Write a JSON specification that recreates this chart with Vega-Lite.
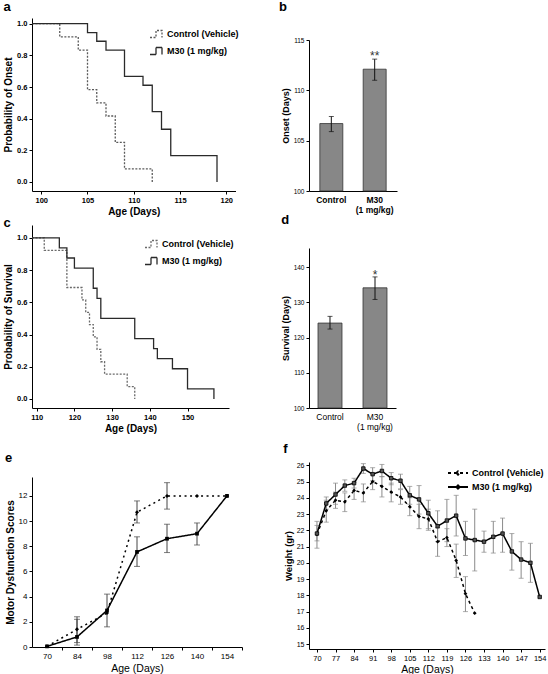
{
  "$schema": "https://vega.github.io/schema/vega-lite/v6.json",
  "padding": {"left": 3, "top": 1, "right": 0, "bottom": 0},
  "background": "white",
  "config": {
    "font": "Liberation Sans",
    "view": {"stroke": null},
    "axis": {"grid": false, "domainColor": "#000", "tickColor": "#000", "labelColor": "#000", "titleColor": "#000", "tickSize": 3, "labelFontSize": 7.5, "labelFontWeight": "bold", "titleFontSize": 10, "titleFontWeight": "bold", "labelPadding": 2, "titlePadding": 3, "domainWidth": 1, "tickWidth": 1, "labelOverlap": false},
    "title": {"anchor": "start", "frame": "bounds", "fontSize": 13, "fontWeight": "bold", "color": "#000"},
    "legend": {"labelFontSize": 9, "labelFontWeight": "bold", "labelColor": "#000"}
  },
  "datasets": {
    "km_a": [
      {"group": "Control (Vehicle)", "day": 99, "p": 1},
      {"group": "Control (Vehicle)", "day": 102, "p": 0.917},
      {"group": "Control (Vehicle)", "day": 104, "p": 0.833},
      {"group": "Control (Vehicle)", "day": 105, "p": 0.583},
      {"group": "Control (Vehicle)", "day": 106, "p": 0.5},
      {"group": "Control (Vehicle)", "day": 107, "p": 0.417},
      {"group": "Control (Vehicle)", "day": 108, "p": 0.25},
      {"group": "Control (Vehicle)", "day": 109, "p": 0.083},
      {"group": "Control (Vehicle)", "day": 112, "p": 0},
      {"group": "M30 (1 mg/kg)", "day": 99, "p": 1},
      {"group": "M30 (1 mg/kg)", "day": 105, "p": 0.944},
      {"group": "M30 (1 mg/kg)", "day": 106, "p": 0.889},
      {"group": "M30 (1 mg/kg)", "day": 107, "p": 0.833},
      {"group": "M30 (1 mg/kg)", "day": 109, "p": 0.667},
      {"group": "M30 (1 mg/kg)", "day": 111, "p": 0.611},
      {"group": "M30 (1 mg/kg)", "day": 112, "p": 0.444},
      {"group": "M30 (1 mg/kg)", "day": 113, "p": 0.333},
      {"group": "M30 (1 mg/kg)", "day": 114, "p": 0.167},
      {"group": "M30 (1 mg/kg)", "day": 119, "p": 0}
    ],
    "km_c": [
      {"group": "Control (Vehicle)", "day": 108.75, "p": 1},
      {"group": "Control (Vehicle)", "day": 112, "p": 0.923},
      {"group": "Control (Vehicle)", "day": 118, "p": 0.692},
      {"group": "Control (Vehicle)", "day": 122, "p": 0.615},
      {"group": "Control (Vehicle)", "day": 123, "p": 0.538},
      {"group": "Control (Vehicle)", "day": 124, "p": 0.462},
      {"group": "Control (Vehicle)", "day": 125, "p": 0.385},
      {"group": "Control (Vehicle)", "day": 126, "p": 0.308},
      {"group": "Control (Vehicle)", "day": 127, "p": 0.231},
      {"group": "Control (Vehicle)", "day": 128, "p": 0.154},
      {"group": "Control (Vehicle)", "day": 134, "p": 0.077},
      {"group": "Control (Vehicle)", "day": 136, "p": 0},
      {"group": "M30 (1 mg/kg)", "day": 108.75, "p": 1},
      {"group": "M30 (1 mg/kg)", "day": 116, "p": 0.9375},
      {"group": "M30 (1 mg/kg)", "day": 118, "p": 0.875},
      {"group": "M30 (1 mg/kg)", "day": 120, "p": 0.8125},
      {"group": "M30 (1 mg/kg)", "day": 125, "p": 0.6875},
      {"group": "M30 (1 mg/kg)", "day": 126, "p": 0.625},
      {"group": "M30 (1 mg/kg)", "day": 127, "p": 0.5},
      {"group": "M30 (1 mg/kg)", "day": 136, "p": 0.375},
      {"group": "M30 (1 mg/kg)", "day": 141, "p": 0.3125},
      {"group": "M30 (1 mg/kg)", "day": 142, "p": 0.25},
      {"group": "M30 (1 mg/kg)", "day": 146, "p": 0.1875},
      {"group": "M30 (1 mg/kg)", "day": 150, "p": 0.0625},
      {"group": "M30 (1 mg/kg)", "day": 157, "p": 0}
    ],
    "onset": [
      {"group": "Control", "mean": 106.7, "lo": 105.9, "hi": 107.4, "sig": ""},
      {"group": "M30", "mean": 112.1, "lo": 111.0, "hi": 113.1, "sig": "**"}
    ],
    "survival": [
      {"group": "Control", "mean": 124.1, "lo": 122.4, "hi": 126.0, "sig": ""},
      {"group": "M30", "mean": 134.1, "lo": 130.8, "hi": 137.2, "sig": "*"}
    ],
    "motor": [
      {"group": "Control", "day": 70, "score": 0.05, "lo": null, "hi": null},
      {"group": "Control", "day": 84, "score": 1.4, "lo": 0.35, "hi": 2.4},
      {"group": "Control", "day": 98, "score": 2.7, "lo": null, "hi": null},
      {"group": "Control", "day": 112, "score": 10.7, "lo": 9.85, "hi": 11.6},
      {"group": "Control", "day": 126, "score": 12, "lo": 10.95, "hi": 13.05},
      {"group": "Control", "day": 140, "score": 12, "lo": null, "hi": null},
      {"group": "Control", "day": 154, "score": 12, "lo": null, "hi": null},
      {"group": "M30", "day": 70, "score": 0.05, "lo": null, "hi": null},
      {"group": "M30", "day": 84, "score": 0.8, "lo": 0.15, "hi": 2.2},
      {"group": "M30", "day": 98, "score": 2.9, "lo": 1.6, "hi": 4.2},
      {"group": "M30", "day": 112, "score": 7.55, "lo": 6.4, "hi": 8.75},
      {"group": "M30", "day": 126, "score": 8.6, "lo": 7.5, "hi": 9.75},
      {"group": "M30", "day": 140, "score": 9.0, "lo": 8.1, "hi": 9.85},
      {"group": "M30", "day": 154, "score": 12, "lo": null, "hi": null}
    ],
    "weight": [
      {"group": "M30  (1 mg/kg)", "day": 70, "w": 21.8, "lo": 21.35, "hi": 22.55},
      {"group": "M30  (1 mg/kg)", "day": 73.5, "w": 23.65, "lo": 23.3, "hi": 24.05},
      {"group": "M30  (1 mg/kg)", "day": 77, "w": 24.2, "lo": 23.6, "hi": 24.9},
      {"group": "M30  (1 mg/kg)", "day": 80.5, "w": 24.75, "lo": 24.4, "hi": 25.1},
      {"group": "M30  (1 mg/kg)", "day": 84, "w": 24.9, "lo": 24.6, "hi": 25.2},
      {"group": "M30  (1 mg/kg)", "day": 87.5, "w": 25.8, "lo": 25.5, "hi": 26.1},
      {"group": "M30  (1 mg/kg)", "day": 91, "w": 25.45, "lo": 25.05, "hi": 25.85},
      {"group": "M30  (1 mg/kg)", "day": 94.5, "w": 25.65, "lo": 25.3, "hi": 26.05},
      {"group": "M30  (1 mg/kg)", "day": 98, "w": 25.2, "lo": 24.8, "hi": 25.55},
      {"group": "M30  (1 mg/kg)", "day": 101.5, "w": 25.05, "lo": 24.55, "hi": 25.45},
      {"group": "M30  (1 mg/kg)", "day": 105, "w": 24.15, "lo": 23.6, "hi": 24.7},
      {"group": "M30  (1 mg/kg)", "day": 108.5, "w": 23.9, "lo": 23.0, "hi": 24.75},
      {"group": "M30  (1 mg/kg)", "day": 112, "w": 23.05, "lo": 22.1, "hi": 23.85},
      {"group": "M30  (1 mg/kg)", "day": 115.5, "w": 22.25, "lo": 21.3, "hi": 23.2},
      {"group": "M30  (1 mg/kg)", "day": 119, "w": 22.6, "lo": 21.3, "hi": 23.9},
      {"group": "M30  (1 mg/kg)", "day": 122.5, "w": 22.9, "lo": 21.65, "hi": 24.15},
      {"group": "M30  (1 mg/kg)", "day": 126, "w": 21.5, "lo": 20.45, "hi": 22.55},
      {"group": "M30  (1 mg/kg)", "day": 129.5, "w": 21.4, "lo": 19.5, "hi": 23.3},
      {"group": "M30  (1 mg/kg)", "day": 133, "w": 21.3, "lo": 20.65, "hi": 21.95},
      {"group": "M30  (1 mg/kg)", "day": 136.5, "w": 21.6, "lo": 20.6, "hi": 22.55},
      {"group": "M30  (1 mg/kg)", "day": 140, "w": 21.8, "lo": 20.65, "hi": 22.75},
      {"group": "M30  (1 mg/kg)", "day": 143.5, "w": 20.7, "lo": 19.55, "hi": 21.8},
      {"group": "M30  (1 mg/kg)", "day": 147, "w": 20.2, "lo": 19.05, "hi": 21.3},
      {"group": "M30  (1 mg/kg)", "day": 150.5, "w": 20.0, "lo": 18.8, "hi": 21.2},
      {"group": "M30  (1 mg/kg)", "day": 154, "w": 17.9, "lo": null, "hi": null},
      {"group": "Control  (Vehicle)", "day": 70, "w": 21.75, "lo": 20.9, "hi": 22.3},
      {"group": "Control  (Vehicle)", "day": 73.5, "w": 23.2, "lo": 22.5, "hi": 23.85},
      {"group": "Control  (Vehicle)", "day": 77, "w": 23.85, "lo": 23.35, "hi": 24.35},
      {"group": "Control  (Vehicle)", "day": 80.5, "w": 23.75, "lo": 23.15, "hi": 24.3},
      {"group": "Control  (Vehicle)", "day": 84, "w": 24.45, "lo": 23.9, "hi": 24.95},
      {"group": "Control  (Vehicle)", "day": 87.5, "w": 24.3, "lo": 23.75, "hi": 24.85},
      {"group": "Control  (Vehicle)", "day": 91, "w": 25.0, "lo": 24.5, "hi": 25.45},
      {"group": "Control  (Vehicle)", "day": 94.5, "w": 24.7, "lo": 24.05, "hi": 25.3},
      {"group": "Control  (Vehicle)", "day": 98, "w": 24.35, "lo": 23.75, "hi": 24.9},
      {"group": "Control  (Vehicle)", "day": 101.5, "w": 24.05, "lo": 23.6, "hi": 24.5},
      {"group": "Control  (Vehicle)", "day": 105, "w": 23.45, "lo": 22.9, "hi": 24.0},
      {"group": "Control  (Vehicle)", "day": 108.5, "w": 22.85, "lo": 22.1, "hi": 23.6},
      {"group": "Control  (Vehicle)", "day": 112, "w": 22.7, "lo": 22.0, "hi": 23.3},
      {"group": "Control  (Vehicle)", "day": 115.5, "w": 21.3, "lo": 20.4, "hi": 22.15},
      {"group": "Control  (Vehicle)", "day": 119, "w": 21.55, "lo": 21.0, "hi": 22.1},
      {"group": "Control  (Vehicle)", "day": 122.5, "w": 20.15, "lo": 19.1, "hi": 21.15},
      {"group": "Control  (Vehicle)", "day": 126, "w": 18.1, "lo": 17.0, "hi": 19.15},
      {"group": "Control  (Vehicle)", "day": 129.5, "w": 16.9, "lo": null, "hi": null}
    ]
  },
  "hconcat": [
    {
      "spacing": 0,
      "resolve": {
        "scale": {"color": "independent", "strokeDash": "independent", "shape": "independent"},
        "legend": {"color": "independent", "strokeDash": "independent", "shape": "independent"}
      },
      "vconcat": [
        {
          "title": {"text": "a", "offset": 4},
          "width": 203.5, "height": 173,
          "data": {"name": "km_a"},
          "mark": {"type": "line", "interpolate": "step-after"},
          "encoding": {
            "x": {"field": "day", "type": "quantitative", "title": "Age (Days)", "scale": {"domain": [99, 121], "nice": false, "zero": false}, "axis": {"values": [100, 105, 110, 115, 120], "format": "d"}},
            "y": {"field": "p", "type": "quantitative", "title": "Probability of Onset", "scale": {"domain": [-0.057, 1.036], "nice": false}, "axis": {"values": [0, 0.2, 0.4, 0.6, 0.8, 1], "format": ".1f", "tickCount": 30}},
            "color": {"field": "group", "type": "nominal", "scale": {"domain": ["Control (Vehicle)", "M30 (1 mg/kg)"], "range": ["#5a5a5a", "#2a2a2a"]}, "legend": {"orient": "none", "legendX": 119, "legendY": 10, "title": null, "symbolType": "M-1.4,0.7H-0.2V-0.7H1V0.7", "symbolSize": 100, "symbolStrokeWidth": 1.3, "rowPadding": 3, "labelOffset": 4}},
            "strokeDash": {"field": "group", "type": "nominal", "scale": {"domain": ["Control (Vehicle)", "M30 (1 mg/kg)"], "range": [[2, 1.5], [1, 0]]}, "legend": {"orient": "none", "legendX": 119, "legendY": 10, "title": null, "symbolType": "M-1.4,0.7H-0.2V-0.7H1V0.7", "symbolSize": 100, "symbolStrokeWidth": 1.3, "rowPadding": 3, "labelOffset": 4}},
            "strokeWidth": {"value": 1.3}
          }
        },
        {
          "title": {"text": "c", "offset": -5},
          "width": 197, "height": 183,
          "data": {"name": "km_c"},
          "mark": {"type": "line", "interpolate": "step-after"},
          "encoding": {
            "x": {"field": "day", "type": "quantitative", "title": "Age (Days)", "scale": {"domain": [108.75, 161], "nice": false, "zero": false}, "axis": {"values": [110, 120, 130, 140, 150], "format": "d"}},
            "y": {"field": "p", "type": "quantitative", "title": "Probability of Survival", "scale": {"domain": [-0.056, 1.08], "nice": false}, "axis": {"values": [0, 0.2, 0.4, 0.6, 0.8, 1], "format": ".1f", "tickCount": 30}},
            "color": {"field": "group", "type": "nominal", "scale": {"domain": ["Control (Vehicle)", "M30 (1 mg/kg)"], "range": ["#6a6a6a", "#2a2a2a"]}, "legend": {"orient": "none", "legendX": 114, "legendY": 13, "title": null, "symbolType": "M-1.4,0.7H-0.2V-0.7H1V0.7", "symbolSize": 100, "symbolStrokeWidth": 1.3, "rowPadding": 3, "labelOffset": 4}},
            "strokeDash": {"field": "group", "type": "nominal", "scale": {"domain": ["Control (Vehicle)", "M30 (1 mg/kg)"], "range": [[2, 1.5], [1, 0]]}, "legend": {"orient": "none", "legendX": 114, "legendY": 13, "title": null, "symbolType": "M-1.4,0.7H-0.2V-0.7H1V0.7", "symbolSize": 100, "symbolStrokeWidth": 1.3, "rowPadding": 3, "labelOffset": 4}},
            "strokeWidth": {"value": 1.3}
          }
        },
        {
          "width": 10, "height": 18,
          "data": {"values": []},
          "mark": {"type": "point", "opacity": 0},
          "encoding": {}
        },
        {
          "title": {"text": "e", "offset": 12},
          "width": 210, "height": 170,
          "data": {"name": "motor"},
          "encoding": {
            "x": {"field": "day", "type": "quantitative", "title": "Age (Days)", "scale": {"domain": [63, 161], "nice": false, "zero": false}, "axis": {"values": [70, 84, 98, 112, 126, 140, 154], "format": "d", "tickCount": 30, "tickOffset": 15, "labelOffset": -15, "labelOverlap": false, "labelFontWeight": "normal", "labelFontSize": 8, "titleFontWeight": "normal", "titleFontSize": 10.5}}
          },
          "layer": [
            {"transform": [{"filter": "isValid(datum.lo)"}], "mark": {"type": "rule", "color": "#444"}, "encoding": {"y": {"field": "lo", "type": "quantitative", "title": "Motor Dysfunction Scores", "scale": {"domain": [0, 13.5], "nice": false}, "axis": {"values": [0, 2, 4, 6, 8, 10, 12], "format": "d", "tickCount": 30, "labelOverlap": false, "labelFontWeight": "normal", "labelFontSize": 8}}, "y2": {"field": "hi"}}},
            {"transform": [{"filter": "isValid(datum.lo)"}], "mark": {"type": "tick", "orient": "horizontal", "size": 6, "thickness": 1, "color": "#444"}, "encoding": {"y": {"field": "lo", "type": "quantitative", "title": "Motor Dysfunction Scores", "axis": {"values": [0, 2, 4, 6, 8, 10, 12], "format": "d", "tickCount": 30, "labelOverlap": false, "labelFontWeight": "normal", "labelFontSize": 8}}}},
            {"transform": [{"filter": "isValid(datum.lo)"}], "mark": {"type": "tick", "orient": "horizontal", "size": 6, "thickness": 1, "color": "#444"}, "encoding": {"y": {"field": "hi", "type": "quantitative", "title": "Motor Dysfunction Scores", "axis": {"values": [0, 2, 4, 6, 8, 10, 12], "format": "d", "tickCount": 30, "labelOverlap": false, "labelFontWeight": "normal", "labelFontSize": 8}}}},
            {"mark": {"type": "line", "color": "#000", "strokeWidth": 1.5}, "encoding": {"y": {"field": "score", "type": "quantitative", "title": "Motor Dysfunction Scores", "axis": {"values": [0, 2, 4, 6, 8, 10, 12], "format": "d", "tickCount": 30, "labelOverlap": false, "labelFontWeight": "normal", "labelFontSize": 8}}, "strokeDash": {"field": "group", "type": "nominal", "scale": {"domain": ["Control", "M30"], "range": [[2, 3.5], [1, 0]]}, "legend": null}}},
            {"transform": [{"filter": "datum.group == 'Control'"}], "mark": {"type": "point", "shape": "diamond", "filled": true, "color": "#000", "size": 16, "opacity": 1}, "encoding": {"y": {"field": "score", "type": "quantitative", "title": "Motor Dysfunction Scores", "axis": {"values": [0, 2, 4, 6, 8, 10, 12], "format": "d", "tickCount": 30, "labelOverlap": false, "labelFontWeight": "normal", "labelFontSize": 8}}}},
            {"transform": [{"filter": "datum.group == 'M30'"}], "mark": {"type": "point", "shape": "square", "filled": true, "color": "#000", "size": 14, "opacity": 1}, "encoding": {"y": {"field": "score", "type": "quantitative", "title": "Motor Dysfunction Scores", "axis": {"values": [0, 2, 4, 6, 8, 10, 12], "format": "d", "tickCount": 30, "labelOverlap": false, "labelFontWeight": "normal", "labelFontSize": 8}}}}
          ]
        }
      ]
    },
    {
      "spacing": 0,
      "resolve": {
        "scale": {"color": "independent", "strokeDash": "independent", "shape": "independent"},
        "legend": {"color": "independent", "strokeDash": "independent", "shape": "independent"}
      },
      "vconcat": [
        {
          "title": {"text": "b", "offset": 4, "dx": -30},
          "width": 88, "height": 19,
          "data": {"values": []},
          "mark": {"type": "point", "opacity": 0},
          "encoding": {}
        },
        {
          "width": 88, "height": 151,
          "data": {"name": "onset"},
          "encoding": {
            "x": {"field": "group", "type": "nominal", "sort": null, "title": null, "scale": {"paddingInner": 0.47, "paddingOuter": 0.25}, "axis": {"ticks": false, "labelAngle": 0, "labelFontSize": 8.5, "labelPadding": 4, "labelLineHeight": 10, "labelExpr": "datum.value == 'M30' ? ['M30', '(1 mg/kg)'] : datum.value"}}
          },
          "layer": [
            {"mark": {"type": "bar", "color": "#878787", "stroke": "#333", "strokeWidth": 0.8}, "encoding": {"y": {"field": "mean", "type": "quantitative", "title": "Onset (Days)", "scale": {"domain": [100, 115], "nice": false, "zero": false}, "axis": {"values": [100, 105, 110, 115], "format": "d", "tickCount": 30, "labelFontSize": 6.5, "labelFontWeight": "normal", "titleFontSize": 9}}, "y2": {"datum": 100}}},
            {"mark": {"type": "rule", "color": "#111"}, "encoding": {"y": {"field": "lo", "type": "quantitative", "title": "Onset (Days)"}, "y2": {"field": "hi"}}},
            {"mark": {"type": "tick", "orient": "horizontal", "size": 5, "thickness": 1, "color": "#111"}, "encoding": {"y": {"field": "lo", "type": "quantitative", "title": "Onset (Days)"}}},
            {"mark": {"type": "tick", "orient": "horizontal", "size": 5, "thickness": 1, "color": "#111"}, "encoding": {"y": {"field": "hi", "type": "quantitative", "title": "Onset (Days)"}}},
            {"mark": {"type": "text", "baseline": "alphabetic", "dy": 1, "fontSize": 12, "color": "#333"}, "encoding": {"y": {"field": "hi", "type": "quantitative", "title": "Onset (Days)"}, "text": {"field": "sig"}}}
          ]
        },
        {
          "title": {"text": "d", "offset": 21},
          "width": 87, "height": 160,
          "data": {"name": "survival"},
          "encoding": {
            "x": {"field": "group", "type": "nominal", "sort": null, "title": null, "scale": {"paddingInner": 0.467, "paddingOuter": 0.2}, "axis": {"ticks": false, "labelAngle": 0, "labelFontSize": 8.5, "labelPadding": 4, "labelLineHeight": 10, "labelFontWeight": "normal", "labelExpr": "datum.value == 'M30' ? ['M30', '(1 mg/kg)'] : datum.value"}}
          },
          "layer": [
            {"mark": {"type": "bar", "color": "#878787", "stroke": "#333", "strokeWidth": 0.8}, "encoding": {"y": {"field": "mean", "type": "quantitative", "title": "Survival (Days)", "scale": {"domain": [100, 145.4], "nice": false, "zero": false}, "axis": {"values": [100, 110, 120, 130, 140], "format": "d", "tickCount": 30, "labelFontSize": 6.5, "labelFontWeight": "normal", "titleFontSize": 9}}, "y2": {"datum": 100}}},
            {"mark": {"type": "rule", "color": "#111"}, "encoding": {"y": {"field": "lo", "type": "quantitative", "title": "Survival (Days)"}, "y2": {"field": "hi"}}},
            {"mark": {"type": "tick", "orient": "horizontal", "size": 5, "thickness": 1, "color": "#111"}, "encoding": {"y": {"field": "lo", "type": "quantitative", "title": "Survival (Days)"}}},
            {"mark": {"type": "tick", "orient": "horizontal", "size": 5, "thickness": 1, "color": "#111"}, "encoding": {"y": {"field": "hi", "type": "quantitative", "title": "Survival (Days)"}}},
            {"mark": {"type": "text", "baseline": "alphabetic", "dy": 2, "fontSize": 12, "color": "#333"}, "encoding": {"y": {"field": "hi", "type": "quantitative", "title": "Survival (Days)"}, "text": {"field": "sig"}}}
          ]
        },
        {
          "width": 10, "height": 12,
          "data": {"values": []},
          "mark": {"type": "point", "opacity": 0},
          "encoding": {}
        },
        {
          "title": {"text": "f", "offset": 5},
          "width": 236, "height": 187,
          "data": {"name": "weight"},
          "encoding": {
            "x": {"field": "day", "type": "quantitative", "title": "Age (Days)", "scale": {"domain": [67, 156], "nice": false, "zero": false}, "axis": {"values": [70, 77, 84, 91, 98, 105, 112, 119, 126, 133, 140, 147, 154], "format": "d", "tickCount": 30, "labelOverlap": false, "labelFontWeight": "normal", "labelFontSize": 7.5, "titleFontWeight": "normal", "titleFontSize": 10.5}}
          },
          "layer": [
            {"transform": [{"filter": "isValid(datum.lo)"}], "mark": {"type": "rule", "color": "#8a8a8a"}, "encoding": {"y": {"field": "lo", "type": "quantitative", "title": "Weight (gr)", "scale": {"domain": [14.7, 26.2], "nice": false, "zero": false}, "axis": {"values": [15, 16, 17, 18, 19, 20, 21, 22, 23, 24, 25, 26], "format": "d", "tickCount": 30, "labelOverlap": false, "labelFontWeight": "normal", "labelFontSize": 7, "titleFontSize": 9.5}}, "y2": {"field": "hi"}}},
            {"transform": [{"filter": "isValid(datum.lo)"}], "mark": {"type": "tick", "orient": "horizontal", "size": 5, "thickness": 1, "color": "#8a8a8a"}, "encoding": {"y": {"field": "lo", "type": "quantitative", "title": "Weight (gr)", "axis": {"values": [15, 16, 17, 18, 19, 20, 21, 22, 23, 24, 25, 26], "format": "d", "tickCount": 30, "labelOverlap": false, "labelFontWeight": "normal", "labelFontSize": 7, "titleFontSize": 9.5}}}},
            {"transform": [{"filter": "isValid(datum.lo)"}], "mark": {"type": "tick", "orient": "horizontal", "size": 5, "thickness": 1, "color": "#8a8a8a"}, "encoding": {"y": {"field": "hi", "type": "quantitative", "title": "Weight (gr)", "axis": {"values": [15, 16, 17, 18, 19, 20, 21, 22, 23, 24, 25, 26], "format": "d", "tickCount": 30, "labelOverlap": false, "labelFontWeight": "normal", "labelFontSize": 7, "titleFontSize": 9.5}}}},
            {"mark": {"type": "line", "color": "#000", "strokeWidth": 1.5}, "encoding": {"y": {"field": "w", "type": "quantitative", "title": "Weight (gr)", "axis": {"values": [15, 16, 17, 18, 19, 20, 21, 22, 23, 24, 25, 26], "format": "d", "tickCount": 30, "labelOverlap": false, "labelFontWeight": "normal", "labelFontSize": 7, "titleFontSize": 9.5}}, "strokeDash": {"field": "group", "type": "nominal", "scale": {"domain": ["Control  (Vehicle)", "M30  (1 mg/kg)"], "range": [[3, 3], [1, 0]]}, "legend": {"orient": "none", "legendX": 143, "legendY": 5, "title": null, "symbolType": "M-2,0H2M-0.35,0L0,-0.35L0.35,0L0,0.35Z", "symbolSize": 100, "symbolStrokeColor": "#000", "symbolStrokeWidth": 1.8, "rowPadding": 2, "labelOffset": 8}}}},
            {"transform": [{"filter": "datum.group == 'Control  (Vehicle)'"}], "mark": {"type": "point", "shape": "diamond", "filled": true, "color": "#000", "size": 14, "opacity": 1}, "encoding": {"y": {"field": "w", "type": "quantitative", "title": "Weight (gr)", "axis": {"values": [15, 16, 17, 18, 19, 20, 21, 22, 23, 24, 25, 26], "format": "d", "tickCount": 30, "labelOverlap": false, "labelFontWeight": "normal", "labelFontSize": 7, "titleFontSize": 9.5}}}},
            {"transform": [{"filter": "datum.group == 'M30  (1 mg/kg)'"}], "mark": {"type": "point", "shape": "square", "filled": true, "color": "#555", "stroke": "#000", "strokeWidth": 0.8, "size": 12, "opacity": 1}, "encoding": {"y": {"field": "w", "type": "quantitative", "title": "Weight (gr)", "axis": {"values": [15, 16, 17, 18, 19, 20, 21, 22, 23, 24, 25, 26], "format": "d", "tickCount": 30, "labelOverlap": false, "labelFontWeight": "normal", "labelFontSize": 7, "titleFontSize": 9.5}}}}
          ]
        }
      ]
    }
  ],
  "spacing": 36,
  "resolve": {
    "scale": {"color": "independent", "strokeDash": "independent", "shape": "independent"},
    "legend": {"color": "independent", "strokeDash": "independent", "shape": "independent"}
  }
}
